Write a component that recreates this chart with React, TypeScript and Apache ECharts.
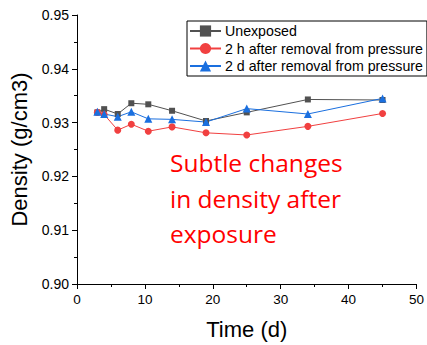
import React, { useEffect, useRef } from "react";
import * as echarts from "echarts";

const days = [3, 4, 6, 8, 10.5, 14, 19, 25, 34, 45];
const unexposed = [0.9319, 0.9325, 0.9316, 0.9336, 0.9334, 0.9322, 0.9303, 0.9319, 0.9343, 0.9342];
const after2h = [0.9319, 0.9315, 0.9286, 0.9297, 0.9284, 0.9292, 0.9281, 0.9277, 0.9293, 0.9317];
const after2d = [0.932, 0.9316, 0.9311, 0.932, 0.9307, 0.9306, 0.9301, 0.9326, 0.9316, 0.9345];
const seriesNames = ["Unexposed", "2 h after removal from pressure", "2 d after removal from pressure"];
const xTitle = "Time (d)";
const yTitle = "Density (g/cm3)";
const annotation = "Subtle changes\nin density after\nexposure";

const colors = ["#515151", "#F14040", "#1A6FDF"];
const symbols = ["rect", "circle", "triangle"];
const symbolSizes = [6, 7, 8];

export default function App() {
  const ref = useRef<HTMLDivElement>(null);
  useEffect(() => {
    if (!ref.current) return;
    const chart = echarts.init(ref.current, null, { renderer: "svg" });
    const all = [unexposed, after2h, after2d];
    const font = "'Liberation Sans', Arial, sans-serif";
    chart.setOption({
      animation: false,
      textStyle: { fontFamily: font },
      grid: { left: 77, right: 9, top: 15, bottom: 56, containLabel: false },
      legend: {
        orient: "vertical",
        left: 187,
        top: 21,
        padding: [3, 4, 3, 2],
        itemWidth: 31,
        itemHeight: 14,
        itemGap: 3.5,
        borderColor: "#000",
        borderWidth: 1,
        borderRadius: 0,
        textStyle: { fontSize: 14.2, color: "#000", fontFamily: font, padding: [0, 0, 0, -1] },
        data: seriesNames,
      },
      xAxis: {
        type: "value",
        min: 0,
        max: 50,
        interval: 10,
        name: xTitle,
        nameLocation: "middle",
        nameGap: 34,
        nameTextStyle: { fontSize: 22, color: "#000", fontFamily: font },
        axisLine: { show: true, lineStyle: { color: "#000", width: 1 } },
        axisTick: { show: true, length: 5, lineStyle: { color: "#000" } },
        minorTick: { show: true, splitNumber: 2, length: 3, lineStyle: { color: "#000" } },
        splitLine: { show: false },
        axisLabel: { fontSize: 13.5, color: "#000", margin: 8 },
      },
      yAxis: {
        type: "value",
        min: 0.9,
        max: 0.95,
        interval: 0.01,
        name: yTitle,
        nameLocation: "middle",
        nameGap: 45,
        nameTextStyle: { fontSize: 22, color: "#000", fontFamily: font },
        axisLine: { show: true, lineStyle: { color: "#000", width: 1 } },
        axisTick: { show: true, length: 5, lineStyle: { color: "#000" } },
        minorTick: { show: true, splitNumber: 2, length: 3, lineStyle: { color: "#000" } },
        splitLine: { show: false },
        axisLabel: {
          fontSize: 14,
          color: "#000",
          margin: 8,
          formatter: (v: number) => v.toFixed(2),
        },
      },
      series: all.map((vals, i) => ({
        name: seriesNames[i],
        type: "line",
        data: days.map((d, j) => [d, vals[j]]),
        symbol: symbols[i],
        symbolSize: symbolSizes[i],
        showAllSymbol: true,
        color: colors[i],
        lineStyle: { width: 1, color: colors[i] },
        itemStyle: { color: colors[i] },
      })),
      graphic: [
        {
          type: "text",
          left: 170,
          top: 145,
          style: {
            text: annotation,
            fill: "#FF0000",
            fontSize: 24.5,
            lineHeight: 35.5,
            fontFamily: "'Open Sans', sans-serif",
          },
        },
      ],
    });
    return () => chart.dispose();
  }, []);
  return (
    <div
      ref={ref}
      style={{ position: "fixed", left: 0, top: 0, width: 427, height: 345, background: "#fff" }}
    />
  );
}
